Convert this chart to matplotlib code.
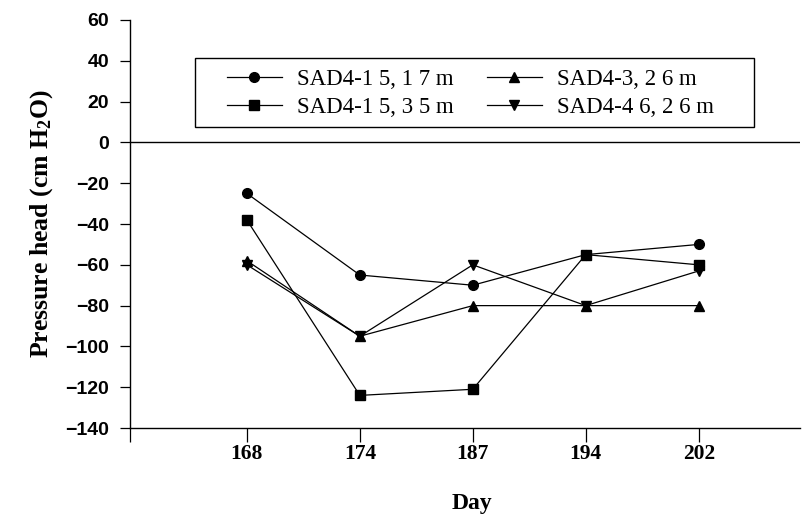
import numpy as np
import matplotlib.pyplot as plt
from matplotlib.patches import Rectangle

plt.rcParams['mathtext.fontset'] = 'custom'
plt.rcParams['mathtext.rm'] = 'Liberation Serif:bold'
plt.rcParams['mathtext.it'] = 'Liberation Serif:bold'
plt.rcParams['mathtext.bf'] = 'Liberation Serif:bold'

days = ['168', '174', '187', '194', '202']
sad41_17 = [-25, -65, -70, -55, -50]
sad41_35 = [-38, -124, -121, -55, -60]
sad43_26 = [-58, -95, -80, -80, -80]
sad44_26 = [-60, -95, -60, -80, -63]

labels = ['SAD4-1 5, 1 7 m', 'SAD4-1 5, 3 5 m', 'SAD4-3, 2 6 m', 'SAD4-4 6, 2 6 m']
series = [sad41_17, sad41_35, sad43_26, sad44_26]
markers = ['o', 's', '^', 'v']

fig = plt.figure(figsize=(8.02, 5.22), dpi=100)
ax = fig.add_axes([0.162, 0.180, 0.836, 0.7817])

x = np.arange(len(days))
handles = []
for y, m, lab in zip(series, markers, labels):
    h, = ax.plot(x, y, color='black', lw=0.9, marker=m, markersize=7, label=lab)
    handles.append(h)

# zero reference line across the whole plot
ax.axhline(0, color='black', lw=1.0)

ax.set_xlim(-1.035, 4.9)
ax.set_ylim(-140, 60)
ax.set_yticks(np.arange(-140, 61, 20))
ax.set_xticks(x)
ax.set_xticklabels(days, family='Liberation Serif', fontweight='bold', fontsize=15.5)
ax.set_xticks([-1.035], minor=True)
for t in ax.get_yticklabels():
    t.set_family('Liberation Sans')
    t.set_fontweight('bold')
    t.set_fontsize(14)

ax.tick_params(axis='x', which='both', direction='out', length=10, width=0.9, pad=1.5)
ax.tick_params(axis='y', direction='out', length=7, width=0.9, pad=8)

for s in ('top', 'right'):
    ax.spines[s].set_visible(False)
for s in ('left', 'bottom'):
    ax.spines[s].set_linewidth(1.0)

ax.set_ylabel('Pressure head (cm H$_2$O)', family='Liberation Serif',
              fontweight='bold', fontsize=18.5, labelpad=7)
ax.set_xlabel('Day', family='Liberation Serif', fontweight='bold', fontsize=17)
ax.xaxis.set_label_coords(0.51, -0.16)

leg = ax.legend(handles=handles, ncol=2, loc='center', bbox_to_anchor=(0.5075, 0.82),
                prop={'family': 'Liberation Serif', 'size': 16.5}, frameon=False,
                handlelength=2.4, handletextpad=0.65, columnspacing=1.45,
                borderpad=0.0, labelspacing=0.28)

# legend box drawn separately so it can be wider than the entries
ax.add_patch(Rectangle((0.097, 0.738), 0.834, 0.169, transform=ax.transAxes,
                       fill=False, edgecolor='black', lw=1.0, zorder=5))

fig.savefig('out.png', dpi=100)
